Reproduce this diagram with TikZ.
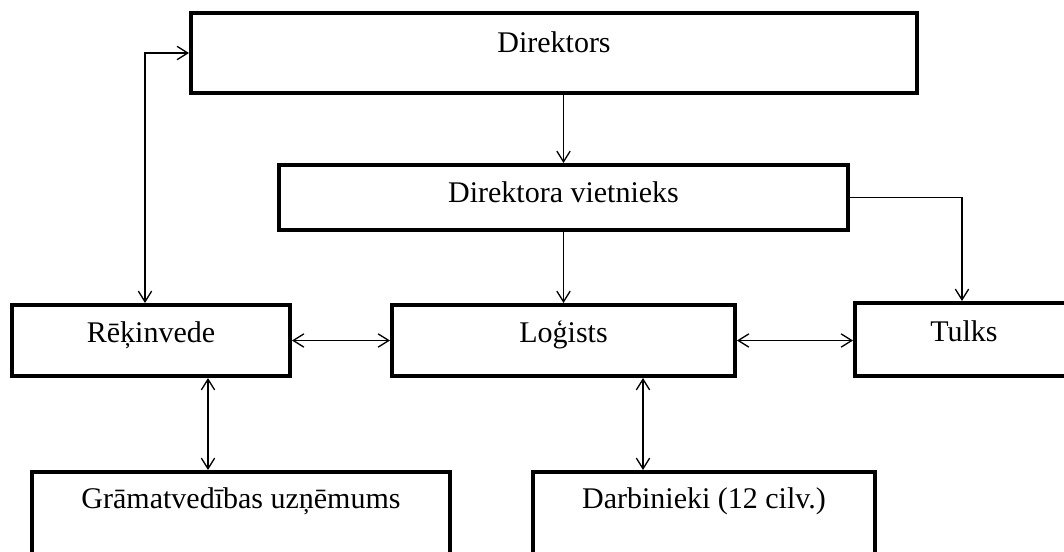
\documentclass[tikz,border=0pt]{standalone}
\usepackage{fontspec}
\setmainfont{Liberation Serif}
\usetikzlibrary{arrows.meta, positioning}

\begin{document}
\begin{tikzpicture}[
    x=0.75pt, y=-0.75pt,
    box/.style={draw, line width=3pt, rectangle, inner sep=0pt, anchor=base,
                font=\fontsize{22.5}{27}\selectfont},
    flow/.style={-{Straight Barb[length=8pt, width=10pt]}, line width=1pt},
    both/.style={{Straight Barb[length=8pt, width=10pt]}-{Straight Barb[length=8pt, width=10pt]}, line width=1pt},
]
\useasboundingbox (0,0) rectangle (1064,551);
\clip (0,0) rectangle (1064,551);
\node[box, minimum width=544.5pt, text height=29.25pt, text depth=30.75pt] (dir) at (554,52) {Direktors};
\node[box, minimum width=426.75pt, text height=27.75pt, text depth=21pt] (viet) at (563.5,202) {Direktora vietnieks};
\node[box, minimum width=208.5pt, text height=27.75pt, text depth=25.5pt] (rek) at (151,342) {Rēķinvede};
\node[box, minimum width=257.25pt, text height=27.75pt, text depth=25.5pt] (log) at (563.5,342) {Loģists};
\node[box, minimum width=163.5pt, text height=28.5pt, text depth=26.25pt] (tulks) at (964,341) {Tulks};
\node[box, minimum width=313.5pt, text height=27pt, text depth=54pt] (gram) at (241,508) {Grāmatvedības uzņēmums};
\node[box, minimum width=256.5pt, text height=27pt, text depth=54pt] (darb) at (704,508) {Darbinieki (12 cilv.)};
\draw[flow] (dir.south -| viet.north) -- (viet.north);
\draw[flow] (viet.south) -- (log.north);
\draw[flow] (viet.east) -| (tulks.north -| 962,0);
\draw[both] (dir.west) -| (rek.north -| 145,0);
\draw[both] (rek.east) -- (log.west);
\draw[both] (log.east) -- (log.east -| tulks.west);
\draw[both] (rek.south -| 208,0) -- (gram.north -| 208,0);
\draw[both] (log.south -| 643,0) -- (darb.north -| 643,0);
\end{tikzpicture}
\end{document}
